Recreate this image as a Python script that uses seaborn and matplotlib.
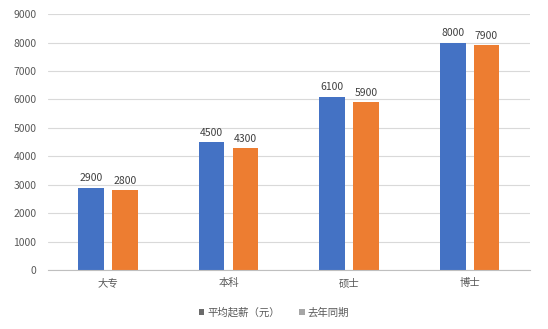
import matplotlib
matplotlib.use("Agg")
import matplotlib.pyplot as plt
import seaborn as sns
import pandas as pd
from matplotlib.patches import Patch

categories = ["大专", "本科", "硕士", "博士"]
series_names = ["平均起薪（元）", "去年同期"]
avg_salary = [2900, 4500, 6100, 8000]
last_year = [2800, 4300, 5900, 7900]
y_ticks = [0, 1000, 2000, 3000, 4000, 5000, 6000, 7000, 8000, 9000]

df = pd.DataFrame({
    "cat": categories * 2,
    "series": [series_names[0]] * 4 + [series_names[1]] * 4,
    "value": avg_salary + last_year,
})

sns.set_theme(style="white")
plt.rcParams['font.family'] = ['Noto Sans CJK SC', 'DejaVu Sans']

fig = plt.figure(figsize=(5.48, 3.29), dpi=100)
ax = fig.add_axes([0.087, 0.179, 0.88, 0.778])

palette = {series_names[0]: "#4472C4", series_names[1]: "#ED7D31"}
sns.barplot(data=df, x="cat", y="value", hue="series", palette=palette,
            width=0.56, gap=0.24, ax=ax, saturation=1, legend=False,
            edgecolor="none")

ax.set_ylim(0, 9000)
ax.set_yticks(y_ticks)
ax.set_xlim(-0.5, 3.5)
ax.grid(axis="y", color="#d9d9d9", linewidth=0.8)
ax.set_axisbelow(True)
for s in ["top", "right", "left"]:
    ax.spines[s].set_visible(False)
ax.spines["bottom"].set_color("#bfbfbf")
ax.spines["bottom"].set_linewidth(0.8)
ax.set_xlabel("")
ax.set_ylabel("")
ax.tick_params(axis="both", length=0, labelsize=7.5, colors="#595959")
ax.tick_params(axis="x", pad=6)
ax.tick_params(axis="y", pad=8)

for cont in ax.containers:
    ax.bar_label(cont, fmt="%d", padding=3, fontsize=7.5, color="#404040")

handles = [Patch(facecolor="#6b6b6b", edgecolor="none"),
           Patch(facecolor="#a6a6a6", edgecolor="none")]
fig.legend(handles, series_names, loc="center", bbox_to_anchor=(0.5, 0.05), ncol=2,
           frameon=False, fontsize=7.5, handlelength=0.55, handleheight=0.55,
           columnspacing=1.8, handletextpad=0.3, labelcolor="#595959")

fig.savefig("out.png", dpi=100)
